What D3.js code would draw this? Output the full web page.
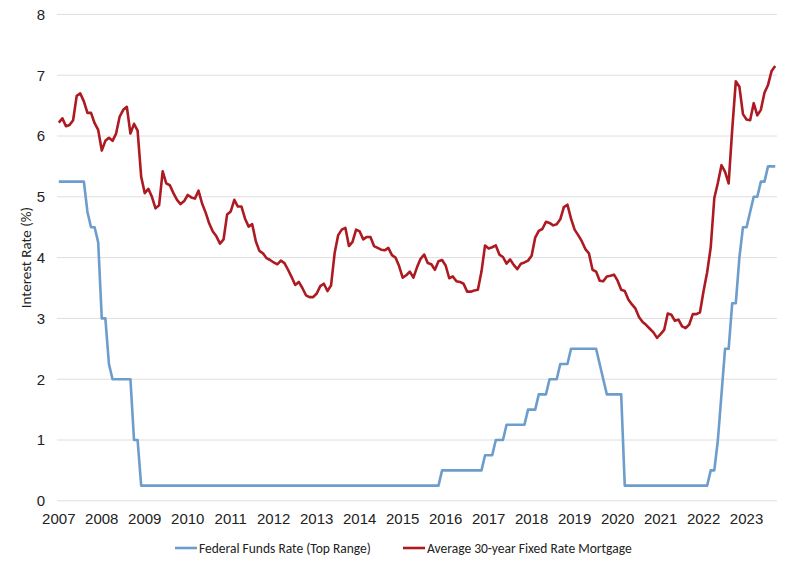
<!DOCTYPE html>
<html>
<head>
<meta charset="utf-8">
<script src="https://cdn.jsdelivr.net/npm/d3@7"></script>
<style>
  html, body { margin: 0; padding: 0; background: #fff; }
  svg { display: block; font-family: Carlito, Calibri, Lato, "Noto Sans", sans-serif; }
</style>
</head>
<body>
<svg id="chart" width="804" height="564"></svg>
<script>
// Monthly data, Jan 2007 – Sep 2023
const startYear = 2007;
const yearLabels = ["2007","2008","2009","2010","2011","2012","2013","2014","2015","2016","2017","2018","2019","2020","2021","2022","2023"];
const yTicks = [0,1,2,3,4,5,6,7,8];
const seriesNames = ["Federal Funds Rate (Top Range)", "Average 30-year Fixed Rate Mortgage"];

const fedFunds = [
  // 2007
  5.25,5.25,5.25,5.25,5.25,5.25,5.25,5.25,4.75,4.5,4.5,4.25,
  // 2008
  3.0,3.0,2.25,2.0,2.0,2.0,2.0,2.0,2.0,1.0,1.0,0.25,
  // 2009
  0.25,0.25,0.25,0.25,0.25,0.25,0.25,0.25,0.25,0.25,0.25,0.25,
  // 2010
  0.25,0.25,0.25,0.25,0.25,0.25,0.25,0.25,0.25,0.25,0.25,0.25,
  // 2011
  0.25,0.25,0.25,0.25,0.25,0.25,0.25,0.25,0.25,0.25,0.25,0.25,
  // 2012
  0.25,0.25,0.25,0.25,0.25,0.25,0.25,0.25,0.25,0.25,0.25,0.25,
  // 2013
  0.25,0.25,0.25,0.25,0.25,0.25,0.25,0.25,0.25,0.25,0.25,0.25,
  // 2014
  0.25,0.25,0.25,0.25,0.25,0.25,0.25,0.25,0.25,0.25,0.25,0.25,
  // 2015
  0.25,0.25,0.25,0.25,0.25,0.25,0.25,0.25,0.25,0.25,0.25,0.5,
  // 2016
  0.5,0.5,0.5,0.5,0.5,0.5,0.5,0.5,0.5,0.5,0.5,0.75,
  // 2017
  0.75,0.75,1.0,1.0,1.0,1.25,1.25,1.25,1.25,1.25,1.25,1.5,
  // 2018
  1.5,1.5,1.75,1.75,1.75,2.0,2.0,2.0,2.25,2.25,2.25,2.5,
  // 2019
  2.5,2.5,2.5,2.5,2.5,2.5,2.5,2.25,2.0,1.75,1.75,1.75,
  // 2020
  1.75,1.75,0.25,0.25,0.25,0.25,0.25,0.25,0.25,0.25,0.25,0.25,
  // 2021
  0.25,0.25,0.25,0.25,0.25,0.25,0.25,0.25,0.25,0.25,0.25,0.25,
  // 2022
  0.25,0.25,0.5,0.5,1.0,1.75,2.5,2.5,3.25,3.25,4.0,4.5,
  // 2023
  4.5,4.75,5.0,5.0,5.25,5.25,5.5,5.5,5.5
];

const mortgage = [
  // 2007
  6.22,6.29,6.16,6.18,6.26,6.66,6.70,6.57,6.38,6.38,6.21,6.10,
  // 2008
  5.76,5.92,5.97,5.92,6.04,6.32,6.43,6.48,6.04,6.20,6.09,5.33,
  // 2009
  5.06,5.13,5.00,4.81,4.86,5.42,5.22,5.19,5.06,4.95,4.88,4.93,
  // 2010
  5.03,4.99,4.97,5.10,4.89,4.74,4.56,4.43,4.35,4.23,4.30,4.71,
  // 2011
  4.76,4.95,4.84,4.84,4.64,4.51,4.55,4.27,4.11,4.07,3.99,3.96,
  // 2012
  3.92,3.89,3.95,3.91,3.80,3.68,3.55,3.60,3.50,3.38,3.35,3.35,
  // 2013
  3.41,3.53,3.57,3.45,3.54,4.07,4.37,4.46,4.49,4.19,4.26,4.46,
  // 2014
  4.43,4.30,4.34,4.34,4.19,4.16,4.13,4.12,4.16,4.04,4.00,3.86,
  // 2015
  3.67,3.71,3.77,3.67,3.84,3.98,4.05,3.91,3.89,3.80,3.94,3.96,
  // 2016
  3.87,3.66,3.69,3.61,3.60,3.57,3.44,3.44,3.46,3.47,3.77,4.20,
  // 2017
  4.15,4.17,4.20,4.05,4.01,3.90,3.97,3.88,3.81,3.90,3.92,3.95,
  // 2018
  4.03,4.33,4.44,4.47,4.59,4.57,4.53,4.55,4.63,4.83,4.87,4.64,
  // 2019
  4.46,4.37,4.27,4.14,4.07,3.80,3.77,3.62,3.61,3.69,3.70,3.72,
  // 2020
  3.62,3.47,3.45,3.31,3.23,3.16,3.02,2.94,2.89,2.83,2.77,2.68,
  // 2021
  2.74,2.81,3.08,3.06,2.96,2.98,2.87,2.84,2.90,3.07,3.07,3.10,
  // 2022
  3.45,3.76,4.17,4.98,5.23,5.52,5.41,5.22,6.11,6.90,6.81,6.36,
  // 2023
  6.27,6.26,6.54,6.34,6.43,6.71,6.84,7.07,7.15
];

const colors = ["#6c9dcc", "#ad1a21"];

const svg = d3.select("#chart");
const plot = { left: 57, right: 777, top: 14.4, bottom: 500.8 };

const n = mortgage.length;
const idx = d3.range(n);
const x = d3.scaleBand().domain(idx).range([plot.left, plot.right]).padding(0);
const xc = i => x(i) + x.bandwidth() / 2;
const y = d3.scaleLinear().domain([0, 8]).range([plot.bottom, plot.top]);

// gridlines
svg.append("g")
  .selectAll("line").data(yTicks).join("line")
  .attr("x1", plot.left).attr("x2", plot.right)
  .attr("y1", d => y(d)).attr("y2", d => y(d))
  .attr("stroke", "#dedede").attr("stroke-width", 1);

// y axis (labels only)
const yAxis = d3.axisLeft(y).tickValues(yTicks).tickSize(0).tickPadding(0).tickFormat(d3.format("d"));
const gy = svg.append("g").attr("transform", `translate(45,0)`).call(yAxis);
gy.select(".domain").remove();
gy.selectAll("text").attr("font-size", 15).attr("fill", "#222").attr("font-family", null);

// x axis: labels at January of each year
const labelIdx = yearLabels.map((_, k) => k * 12);
const xAxis = d3.axisBottom(x).tickValues(labelIdx).tickSize(0).tickPadding(0)
  .tickFormat(i => yearLabels[i / 12]);
const gx = svg.append("g").attr("transform", `translate(0,513)`).call(xAxis);
gx.select(".domain").remove();
gx.selectAll("text").attr("font-size", 15).attr("fill", "#222").attr("font-family", null).attr("dy", "0.71em");

// axis title
svg.append("text")
  .attr("transform", `translate(30.5,${(plot.top + plot.bottom) / 2}) rotate(-90)`)
  .attr("text-anchor", "middle")
  .attr("font-size", 15).attr("fill", "#222")
  .text("Interest Rate (%)");

// lines
const line = d3.line().x((d, i) => xc(i)).y(d => y(d));
[fedFunds, mortgage].forEach((s, k) => {
  svg.append("path")
    .datum(s)
    .attr("fill", "none")
    .attr("stroke", colors[k])
    .attr("stroke-width", 2.6)
    .attr("stroke-linejoin", "round")
    .attr("d", line);
});

// legend
const legendItems = [
  { x: 175, name: seriesNames[0], color: colors[0] },
  { x: 403, name: seriesNames[1], color: colors[1] }
];
const lg = svg.append("g");
legendItems.forEach(it => {
  lg.append("line").attr("x1", it.x).attr("x2", it.x + 22)
    .attr("y1", 548).attr("y2", 548)
    .attr("stroke", it.color).attr("stroke-width", 2.6);
  lg.append("text").attr("x", it.x + 24).attr("y", 548).attr("dy", "0.35em")
    .attr("font-size", 13.5).attr("fill", "#222").text(it.name);
});
</script>
</body>
</html>
